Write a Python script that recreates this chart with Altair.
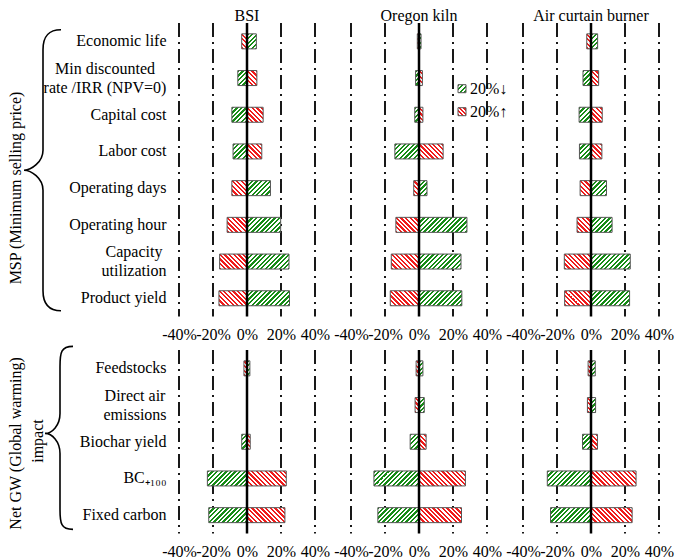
import altair as alt

FONT = "Liberation Serif"

# ---------------- data ----------------
systems = ["BSI", "Oregon kiln", "Air curtain burner"]
msp_params = ["Economic life", "Min discounted|rate /IRR (NPV=0)", "Capital cost", "Labor cost",
              "Operating days", "Operating hour", "Capacity|utilization", "Product yield"]
gw_params = ["Feedstocks", "Direct air|emissions", "Biochar yield", "BC\u208a\u2081\u2080\u2080", "Fixed carbon"]

# % change of MSP when the parameter is decreased 20% (green) / increased 20% (red)
bsi_msp_down = [5.5, -5.4, -8.9, -8.2, 13.8, 19.8, 24.7, 25.0]
bsi_msp_up = [-3.1, 5.8, 9.5, 8.7, -8.9, -11.7, -16.1, -16.5]
ok_msp_down = [1.2, -2.0, -2.5, -14.2, 4.7, 28.2, 24.7, 25.2]
ok_msp_up = [-1.0, 2.0, 2.3, 14.2, -3.1, -13.6, -16.3, -16.9]
acb_msp_down = [3.9, -4.7, -7.0, -6.8, 9.1, 12.4, 23.1, 22.7]
acb_msp_up = [-2.5, 4.5, 6.6, 6.4, -6.4, -8.2, -15.7, -15.5]

# % change of net GW impact
bsi_gw_down = [1.7, 0.0, -3.1, -23.3, -22.5]
bsi_gw_up = [-1.8, 0.0, 1.9, 23.1, 22.3]
ok_gw_down = [2.3, 3.1, -5.2, -26.5, -24.2]
ok_gw_up = [-1.7, -2.3, 4.2, 27.3, 25.0]
acb_gw_down = [2.5, 2.7, -5.0, -25.7, -23.8]
acb_gw_up = [-1.7, -2.1, 3.8, 26.5, 24.2]

tick_values = [-40, -20, 0, 20, 40]
grid_values = [-40, -20, 20, 40]
zero_values = [0]
legend_labels = ["20%\u2193", "20%\u2191"]
msp_title = "MSP (Minimum selling price)"
gw_title_lines = ["Net GW (Global warming)", "impact"]

msp_down = [bsi_msp_down, ok_msp_down, acb_msp_down]
msp_up = [bsi_msp_up, ok_msp_up, acb_msp_up]
gw_down = [bsi_gw_down, ok_gw_down, acb_gw_down]
gw_up = [bsi_gw_up, ok_gw_up, acb_gw_up]

# ---------------- style / layout ----------------
PANEL_W = 172
PX_PER_PCT = 1.70
DOMAIN = PANEL_W / (2 * PX_PER_PCT)
PX = PANEL_W / (2 * DOMAIN)
STEP = 36.7
BAR_H = 15
MSP_H = STEP * len(msp_params)
GW_H = STEP * len(gw_params)
ROW_GAP = 33
GREEN = "#168c16"
RED = "#f01c1c"
EDGE = "#555555"
LABEL_PAD = -5
# half-widths (px) of the widest line of the two-line labels, so their lines are centred
HALF_W = {"Min discounted|rate /IRR (NPV=0)": 61.5, "Capacity|utilization": 32.5,
          "Direct air|emissions": 31.5}


def hatch(w, h, color, forward, period=4.6, frac=0.5):
    """Diagonal stripes as a hard-stop linear gradient in bounding-box units."""
    w = max(w, 0.5)
    L = w + h
    a = w * (w + h) / (w * w + h * h)
    stops = []
    k = 0
    while k * period < L:
        s0 = k * period / L
        s1 = min((k * period + frac * period) / L, 1.0)
        s2 = min((k + 1) * period / L, 1.0)
        stops += [{"offset": s0, "color": color}, {"offset": s1, "color": color},
                  {"offset": s1, "color": "white"}, {"offset": s2, "color": "white"}]
        k += 1
    if forward:  # "/"
        return {"gradient": "linear", "x1": 0, "y1": 0, "x2": a, "y2": a * h / w, "stops": stops}
    return {"gradient": "linear", "x1": 0, "y1": 1, "x2": a, "y2": 1 - a * h / w, "stops": stops}


def brace(top, bottom, tip, end, r=20):
    return (f"M{end},{-top} C{end-12},{-top} 0,{-top+6} 0,{-top+r} "
            f"L0,{-r} C0,-8 {-tip+7},0 {-tip},0 "
            f"C{-tip+7},0 0,8 0,{r} L0,{bottom-r} C0,{bottom-6} {end-12},{bottom} {end},{bottom}")


xscale = alt.Scale(domain=[-DOMAIN, DOMAIN], nice=False, zero=False)
xaxis = alt.Axis(values=tick_values, labelExpr="datum.value + '%'", title=None,
                 grid=False, domain=False, ticks=False, labelFontSize=16,
                 labelFont=FONT, labelColor="black", labelPadding=10,
                 labelOverlap=False, labelFlush=False)

MULTI = "indexof(datum.label, '|') >= 0"


def yaxis_for(params):
    pad_conds = [{"test": f"datum.label == '{p}'", "value": LABEL_PAD + HALF_W[p]}
                 for p in params if p in HALF_W]
    return alt.Axis(title=None, domain=False, ticks=False, grid=False, labelFontSize=16,
                    labelFont=FONT, labelColor="black",
                    labelPadding={"condition": pad_conds, "value": LABEL_PAD},
                    labelAlign={"condition": {"test": MULTI, "value": "center"}, "value": "right"},
                    labelExpr="split(datum.label, '|')", labelLineHeight=19, labelLimit=400,
                    labelOffset={"condition": {"test": MULTI, "value": -9.5}, "value": 0})


def text_layer(txt, x, y, angle=0, align="center", baseline="middle"):
    return alt.Chart(alt.Data(values=[{"t": txt}])).mark_text(
        angle=angle, fontSize=16, font=FONT, align=align, baseline=baseline, color="black"
    ).encode(text="t:N", x=alt.value(x), y=alt.value(y))


def brace_layer(path, x, y):
    return alt.Chart(alt.Data(values=[{"b": 1}])).mark_point(
        shape=path, size=4, filled=False, stroke="black", strokeWidth=1.6, opacity=1
    ).encode(x=alt.value(x), y=alt.value(y))


def panel(params, down, up, height, system, first_col, top_row, extra=None):
    records = []
    for p, d, u in zip(params, down, up):
        if d != 0:
            records.append({"param": p, "value": d, "grad": hatch(abs(d) * PX, BAR_H, GREEN, True)})
        if u != 0:
            records.append({"param": p, "value": u, "grad": hatch(abs(u) * PX, BAR_H, RED, False)})

    grid = alt.Chart(alt.Data(values=[{"value": v} for v in grid_values])).mark_rule(
        color="black", strokeWidth=1.8, strokeDash=[14, 5, 2, 5]
    ).encode(x=alt.X("value:Q", scale=xscale, axis=xaxis))

    yaxis = yaxis_for(params) if first_col else None

    bars = alt.Chart(alt.Data(values=records)).mark_bar(
        height=BAR_H, stroke=EDGE, strokeWidth=1
    ).encode(
        x=alt.X("value:Q", scale=xscale, stack=None, axis=xaxis),
        y=alt.Y("param:N", sort=params, scale=alt.Scale(domain=params), axis=yaxis),
        fill=alt.Fill(field="grad", type="nominal", scale=None, legend=None),
    )

    zero = alt.Chart(alt.Data(values=[{"value": v} for v in zero_values])).mark_rule(
        color="black", strokeWidth=2.5
    ).encode(x=alt.X("value:Q", scale=xscale, axis=xaxis))

    layers = [grid, bars, zero] + (extra or [])
    if top_row:
        layers.append(text_layer(system, PANEL_W / 2, -2, baseline="alphabetic"))
    return alt.layer(*layers).properties(width=PANEL_W, height=height)


# decorations (pixel offsets relative to the panel's plot area)
msp_extra = [
    text_layer(msp_title, -145, 165, angle=270),
    brace_layer(brace(140.5, 140.5, 19, 18), -118, 147.2),
]
gw_extra = [
    text_layer(gw_title_lines[0], -145, 93.4, angle=270),
    text_layer(gw_title_lines[1], -123, 91, angle=270),
    brace_layer(brace(87, 96, 15, 13), -101, 83.4),
]
legend_extra = []
for i, (lab, col, fwd) in enumerate(zip(legend_labels, [GREEN, RED], [True, False])):
    yy = 65.7 + 23 * i
    legend_extra.append(
        alt.Chart(alt.Data(values=[{"l": lab}])).mark_point(
            shape="square", size=64, filled=True, fill=hatch(8, 8, col, fwd, period=4.2),
            stroke=EDGE, strokeWidth=1, opacity=1
        ).encode(x=alt.value(129), y=alt.value(yy))
    )
    legend_extra.append(text_layer(lab, 137, yy, align="left"))

cells = []
for i, s in enumerate(systems):
    extra = msp_extra if i == 0 else (legend_extra if i == 1 else None)
    cells.append(panel(msp_params, msp_down[i], msp_up[i], MSP_H, s, i == 0, True, extra))
for i, s in enumerate(systems):
    extra = gw_extra if i == 0 else None
    cells.append(panel(gw_params, gw_down[i], gw_up[i], GW_H, s, i == 0, False, extra))

chart = alt.concat(*cells, columns=3, spacing={"row": ROW_GAP, "column": 0}, bounds="flush").properties(
    padding=0
).configure(font=FONT).configure_view(strokeWidth=0)

chart.save("out.html", embed_options={"renderer": "svg", "actions": False})
